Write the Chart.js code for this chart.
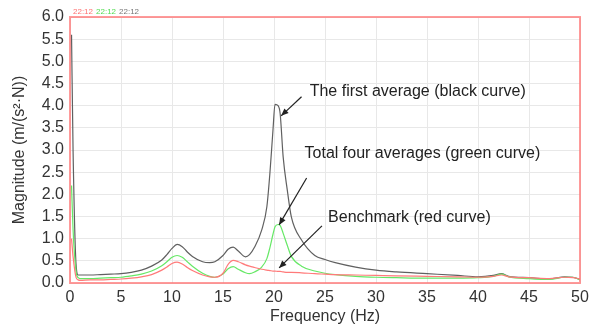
<!DOCTYPE html>
<html>
<head>
<meta charset="utf-8">
<script src="https://cdn.jsdelivr.net/npm/chart.js@4"></script>
<style>
  html, body { margin: 0; padding: 0; background: #fff; }
  #wrap { width: 596px; height: 327px; }
</style>
</head>
<body>
<div id="wrap"><canvas id="fft"></canvas></div>
<script>
// Frequency samples (Hz) shared by all three curves
const freqs = [0.15, 0.3, 0.6, 0.8, 1, 2, 3, 4, 5, 6, 7, 8, 9, 9.5, 10, 10.5, 11, 11.5, 12, 13, 13.7, 14.2,
  15, 15.5, 16, 16.5, 17.2, 17.6, 18.1, 18.8, 19.3, 19.6, 19.9, 20.1, 20.4, 20.6, 20.9, 21.3, 21.7, 22.7,
  24, 25, 26, 28, 30, 32, 35, 38, 40, 41.5, 42.3, 43, 45, 47, 48.5, 49.3, 50];

// First average (black curve)
const firstAvg = [5.6, 3.0, 0.4, 0.18, 0.18, 0.18, 0.19, 0.2, 0.21, 0.24, 0.29, 0.38, 0.52, 0.64, 0.78, 0.87,
  0.82, 0.7, 0.6, 0.48, 0.46, 0.48, 0.62, 0.76, 0.81, 0.72, 0.59, 0.64, 0.81, 1.2, 1.72, 2.48, 3.45, 4.03,
  4.0, 3.83, 2.84, 2.1, 1.49, 0.97, 0.62, 0.53, 0.46, 0.36, 0.29, 0.25, 0.21, 0.17, 0.14, 0.17, 0.21, 0.15,
  0.12, 0.09, 0.14, 0.13, 0.08];

// Total four averages (green curve)
const fourAvg = [2.2, 1.2, 0.25, 0.12, 0.1, 0.1, 0.11, 0.12, 0.13, 0.16, 0.2, 0.27, 0.39, 0.48, 0.58, 0.62,
  0.58, 0.48, 0.38, 0.22, 0.15, 0.13, 0.2, 0.32, 0.37, 0.31, 0.23, 0.21, 0.25, 0.36, 0.55, 0.8, 1.1, 1.27,
  1.32, 1.3, 1.12, 0.85, 0.6, 0.38, 0.27, 0.22, 0.19, 0.15, 0.13, 0.12, 0.11, 0.11, 0.12, 0.15, 0.2, 0.14,
  0.1, 0.08, 0.13, 0.13, 0.07];

// Benchmark (red curve)
const benchmark = [1.0, 0.6, 0.12, 0.07, 0.06, 0.07, 0.07, 0.08, 0.09, 0.11, 0.14, 0.19, 0.29, 0.36, 0.44,
  0.47, 0.43, 0.35, 0.28, 0.18, 0.14, 0.13, 0.22, 0.42, 0.51, 0.48, 0.41, 0.38, 0.35, 0.31, 0.29, 0.28, 0.27,
  0.27, 0.26, 0.26, 0.25, 0.24, 0.24, 0.23, 0.21, 0.2, 0.19, 0.18, 0.17, 0.16, 0.15, 0.14, 0.13, 0.15, 0.18,
  0.14, 0.12, 0.1, 0.13, 0.12, 0.09];

const xTicks = [0, 5, 10, 15, 20, 25, 30, 35, 40, 45, 50];
const yTicks = [0, 0.5, 1, 1.5, 2, 2.5, 3, 3.5, 4, 4.5, 5, 5.5, 6];

// Callouts: text anchor, arrow tail and arrow tip, in data units
const notes = [
  { text: 'The first average (black curve)', at: [23.5, 4.31], tail: [22.7, 4.2], tip: [20.7, 3.77] },
  { text: 'Total four averages (green curve)', at: [23.0, 2.93], tail: [23.2, 2.37], tip: [20.5, 1.31] },
  { text: 'Benchmark (red curve)', at: [25.3, 1.47], tail: [24.7, 1.29], tip: [20.5, 0.34] }
];

const toPts = ys => freqs.map((f, i) => ({ x: f, y: ys[i] }));
const FONT = 'Liberation Sans, Arial, sans-serif';

const overlay = {
  id: 'overlay',
  afterDatasetsDraw(chart) {
    const { ctx, chartArea: a, scales: { x, y } } = chart;
    ctx.save();
    // pink frame round the plot
    ctx.strokeStyle = 'rgba(255,120,120,0.75)';
    ctx.lineWidth = 2;
    ctx.strokeRect(a.left, a.top, a.right - a.left, a.bottom - a.top);

    // small time stamps above the frame
    ctx.font = '8px ' + FONT;
    ctx.textBaseline = 'bottom';
    ctx.textAlign = 'left';
    const stamps = [['22:12', '#ff7070'], ['22:12', '#55dd55'], ['22:12', '#777']];
    let sx = a.left + 3;
    stamps.forEach(([t, c]) => {
      ctx.fillStyle = c;
      ctx.fillText(t, sx, a.top - 1);
      sx += ctx.measureText(t).width + 3;
    });

    // callout text and arrows
    ctx.font = '16px ' + FONT;
    ctx.textBaseline = 'middle';
    ctx.fillStyle = '#222';
    ctx.strokeStyle = '#222';
    ctx.lineWidth = 1.2;
    notes.forEach(n => {
      ctx.fillText(n.text, x.getPixelForValue(n.at[0]), y.getPixelForValue(n.at[1]));
      const x0 = x.getPixelForValue(n.tail[0]), y0 = y.getPixelForValue(n.tail[1]);
      const x1 = x.getPixelForValue(n.tip[0]), y1 = y.getPixelForValue(n.tip[1]);
      ctx.beginPath();
      ctx.moveTo(x0, y0);
      ctx.lineTo(x1, y1);
      ctx.stroke();
      const ang = Math.atan2(y1 - y0, x1 - x0);
      const len = 8, spread = 0.4;
      ctx.beginPath();
      ctx.moveTo(x1, y1);
      ctx.lineTo(x1 - len * Math.cos(ang - spread), y1 - len * Math.sin(ang - spread));
      ctx.lineTo(x1 - len * Math.cos(ang + spread), y1 - len * Math.sin(ang + spread));
      ctx.closePath();
      ctx.fill();
    });
    ctx.restore();
  }
};

new Chart(document.getElementById('fft'), {
  type: 'line',
  data: {
    datasets: [
      { label: 'Benchmark', data: toPts(benchmark), borderColor: '#ff7a7a' },
      { label: 'Total four averages', data: toPts(fourAvg), borderColor: '#66e866' },
      { label: 'The first average', data: toPts(firstAvg), borderColor: '#606060' }
    ]
  },
  options: {
    responsive: true,
    maintainAspectRatio: false,
    animation: false,
    layout: { padding: { top: 17, right: 16, left: 0, bottom: 0 } },
    elements: {
      point: { radius: 0 },
      line: { borderWidth: 1.2, cubicInterpolationMode: 'monotone', fill: false }
    },
    plugins: { legend: { display: false }, tooltip: { enabled: false } },
    scales: {
      x: {
        type: 'linear',
        min: 0,
        max: 50,
        afterFit: s => { s.height = 44; },
        afterBuildTicks: s => { s.ticks = xTicks.map(v => ({ value: v })); },
        border: { display: false },
        grid: { color: '#e8e8e8', drawTicks: false },
        ticks: { color: '#333', font: { family: FONT, size: 16 }, padding: 5, maxRotation: 0, autoSkip: false },
        title: { display: true, text: 'Frequency (Hz)', color: '#333', font: { family: FONT, size: 16 }, padding: { top: 0, bottom: 1 } }
      },
      y: {
        min: 0,
        max: 6,
        afterFit: s => { s.width = 70; },
        afterBuildTicks: s => { s.ticks = yTicks.map(v => ({ value: v })); },
        border: { display: false },
        grid: { color: '#e8e8e8', drawTicks: false },
        ticks: { color: '#333', font: { family: FONT, size: 16 }, padding: 6, autoSkip: false, callback: v => v.toFixed(1) },
        title: { display: true, text: 'Magnitude (m/(s²·N))', color: '#333', font: { family: FONT, size: 16 }, padding: { top: 10, bottom: 0 } }
      }
    }
  },
  plugins: [overlay]
});
</script>
</body>
</html>
